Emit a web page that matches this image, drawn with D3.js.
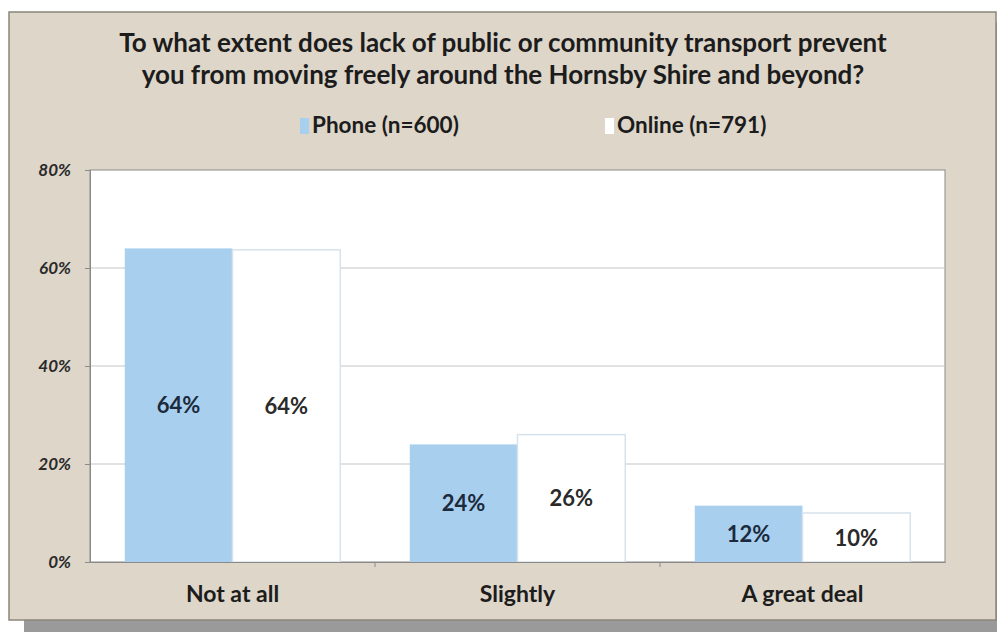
<!DOCTYPE html>
<html>
<head>
<meta charset="utf-8">
<script src="https://cdn.jsdelivr.net/npm/d3@7"></script>
<style>
  body { margin: 0; background: #ffffff; }
  svg { display: block; font-family: Lato, "Open Sans", sans-serif; }
</style>
</head>
<body>
<div id="chart"></div>
<script>
// chart values
const categories = ["Not at all", "Slightly", "A great deal"];
const seriesNames = ["Phone (n=600)", "Online (n=791)"];
const phoneValues = [64, 24, 11.5];
const onlineValues = [63.7, 26, 10];
const yTicks = [0, 20, 40, 60, 80];
const titleLines = [
    "To what extent does lack of public or community transport prevent",
    "you from moving freely around the Hornsby Shire and beyond?"
];

const width = 997, height = 641;
const margin = { left: 90, right: 52, top: 170, bottom: 79 };
const innerWidth = width - margin.left - margin.right;
const innerHeight = height - margin.top - margin.bottom;

const phoneColor = "#a8cfee";
const bgColor = "#ddd6c9";

const data = categories.map((c, i) => ({
    category: c,
    values: [
        { series: seriesNames[0], value: phoneValues[i] },
        { series: seriesNames[1], value: onlineValues[i] }
    ]
}));

const svg = d3.select("#chart")
    .append("svg")
    .attr("width", width)
    .attr("height", height);

// drop shadow + frame
svg.append("rect")
    .attr("x", 24).attr("y", 22)
    .attr("width", width - 24).attr("height", 610)
    .attr("fill", "#9a9a9a");
svg.append("rect")
    .attr("x", 9).attr("y", 12)
    .attr("width", width - 10).attr("height", 608)
    .attr("fill", bgColor)
    .attr("stroke", "#8b867b")
    .attr("stroke-width", 1.5);

// title
svg.append("g").selectAll("text")
    .data(titleLines)
    .join("text")
    .attr("x", 503)
    .attr("y", (d, i) => 52 + i * 32)
    .attr("text-anchor", "middle")
    .style("font-size", "26px")
    .style("font-weight", "bold")
    .style("fill", "#1c1c1c")
    .text(d => d);

// legend
const legend = svg.append("g");
const legendX = [300, 605];
legend.selectAll("rect")
    .data(seriesNames)
    .join("rect")
    .attr("x", (d, i) => legendX[i])
    .attr("y", 118)
    .attr("width", 9)
    .attr("height", 16)
    .attr("fill", (d, i) => i === 0 ? phoneColor : "#ffffff");
legend.selectAll("text")
    .data(seriesNames)
    .join("text")
    .attr("x", (d, i) => legendX[i] + 12)
    .attr("y", 133)
    .style("font-size", "22.5px")
    .style("font-weight", "bold")
    .style("fill", "#1c1c1c")
    .text(d => d);

// scales
const x0 = d3.scaleBand()
    .domain(categories)
    .range([0, innerWidth]);
const gap = x0.bandwidth() * 0.122;
const x1 = d3.scaleBand()
    .domain(seriesNames)
    .range([gap, x0.bandwidth() - gap]);
const y = d3.scaleLinear()
    .domain([0, 80])
    .range([innerHeight, 0]);

const inner = svg.append("g")
    .attr("transform", `translate(${margin.left}, ${margin.top})`);

// plot area
inner.append("rect")
    .attr("width", innerWidth)
    .attr("height", innerHeight)
    .attr("fill", "#ffffff")
    .attr("stroke", "#8a8a8a")
    .attr("stroke-width", 1);

// gridlines
inner.append("g")
    .selectAll("line")
    .data(yTicks.slice(1, -1))
    .join("line")
    .attr("x1", 0).attr("x2", innerWidth)
    .attr("y1", d => y(d)).attr("y2", d => y(d))
    .attr("stroke", "#c6c6c6")
    .attr("stroke-width", 1.2);

// bars
const groups = inner.selectAll(".group")
    .data(data)
    .join("g")
    .attr("class", "group")
    .attr("transform", d => `translate(${x0(d.category)}, 0)`);

groups.selectAll("rect")
    .data(d => d.values)
    .join("rect")
    .attr("x", d => x1(d.series))
    .attr("y", d => y(d.value))
    .attr("width", x1.bandwidth())
    .attr("height", d => innerHeight - y(d.value))
    .attr("fill", (d, i) => i === 0 ? phoneColor : "#ffffff")
    .attr("stroke", (d, i) => i === 0 ? "none" : "#d6e2ec")
    .attr("stroke-width", 1.5);

groups.selectAll(".bar-label")
    .data(d => d.values)
    .join("text")
    .attr("class", "bar-label")
    .attr("x", d => x1(d.series) + x1.bandwidth() / 2)
    .attr("y", d => (y(d.value) + innerHeight) / 2 + 8)
    .attr("text-anchor", "middle")
    .style("font-size", "22px")
    .style("font-weight", "bold")
    .style("fill", (d, i) => i === 0 ? "#1b2a3c" : "#2a2a2a")
    .text(d => Math.round(d.value) + "%");

// x axis
const xAxis = inner.append("g")
    .attr("transform", `translate(0, ${innerHeight})`)
    .call(d3.axisBottom(x0).tickSize(0).tickPadding(24));
xAxis.select(".domain").attr("stroke", "#8a8a8a");
xAxis.selectAll("text")
    .style("font-size", "23px")
    .style("font-weight", "bold")
    .style("font-family", "Lato, sans-serif")
    .style("fill", "#1c1c1c");
xAxis.selectAll(".sep")
    .data(x0.domain().slice(1))
    .join("line")
    .attr("class", "sep")
    .attr("x1", d => x0(d)).attr("x2", d => x0(d))
    .attr("y1", 0).attr("y2", 5)
    .attr("stroke", "#8a8a8a");

// y axis
const yAxis = inner.append("g")
    .call(d3.axisLeft(y).tickValues(yTicks).tickSize(5).tickPadding(14).tickFormat(d => d + "%"));
yAxis.select(".domain").attr("stroke", "#8a8a8a");
yAxis.selectAll(".tick line").attr("stroke", "#8a8a8a");
yAxis.selectAll("text")
    .style("font-size", "17px")
    .style("font-weight", "bold")
    .style("font-style", "italic")
    .style("font-family", "Lato, sans-serif")
    .style("fill", "#2a2a2a");
</script>
</body>
</html>
